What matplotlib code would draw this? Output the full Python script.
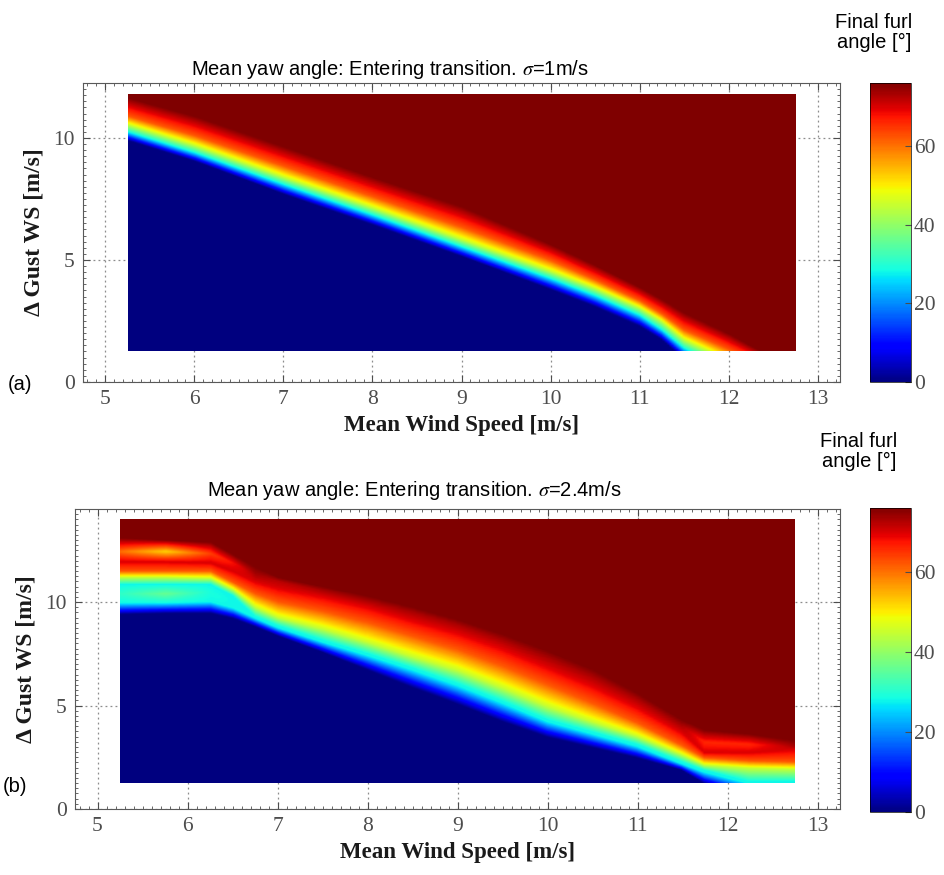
import matplotlib
matplotlib.use('Agg')
import matplotlib.pyplot as plt
import numpy as np
from matplotlib.ticker import MultipleLocator

plt.rcParams['mathtext.fontset'] = 'stix'

# colour scale shared by both maps
vmax = 76
cbar_ticks = [0, 20, 40, 60]
x_ticks = [5, 6, 7, 8, 9, 10, 11, 12, 13]
y_ticks = [0, 5, 10]

titles = ['Mean yaw angle: Entering transition. $\\sigma$=1m/s',
          'Mean yaw angle: Entering transition. $\\sigma$=2.4m/s']
panel_tags = ['(a)', '(b)']

# (a) sigma = 1 m/s
# gust [m/s] at which the map reaches each colour level, per mean wind speed
a_ws = [5.25, 6.0, 7.0, 8.0, 9.0, 10.0, 10.5, 11.0, 11.25, 11.5, 12.0, 12.25, 12.75]
a_lvl0 = [9.85, 9.0, 7.65, 6.4, 5.1, 3.75, 3.05, 2.25, 1.7, 0.9, -0.2, -0.5, -1.5]
a_lvl28 = [10.2, 9.35, 8.05, 6.8, 5.5, 4.2, 3.5, 2.7, 2.1, 1.35, 0.4, 0.0, -1.0]
a_lvl45 = [10.5, 9.65, 8.35, 7.1, 5.8, 4.5, 3.8, 3.0, 2.45, 1.7, 0.85, 0.5, -0.6]
a_lvl62 = [10.85, 10.05, 8.8, 7.55, 6.3, 4.95, 4.15, 3.3, 2.75, 2.1, 1.3, 0.9, -0.2]
a_lvl76 = [11.6, 10.85, 9.6, 8.35, 7.15, 5.6, 4.75, 3.85, 3.35, 2.8, 1.95, 1.45, 0.5]
a_gust_range = (1.25, 11.75)

# (b) sigma = 2.4 m/s
b_ws = [5.25, 5.75, 6.25, 6.5, 6.75, 7.0, 7.5, 8.0, 8.5, 9.0, 9.5, 10.0, 10.5,
        11.0, 11.5, 11.75, 12.25, 12.75]
b_lvl0 = [9.4, 9.45, 9.45, 9.2, 8.8, 8.35, 7.55, 6.7, 5.85, 5.05, 4.2, 3.45, 2.95,
          2.45, 1.85, 1.2, 0.5, 0.5]
b_lvl28 = [9.95, 9.95, 10.0, 9.7, 9.2, 8.75, 8.05, 7.4, 6.7, 5.95, 5.1, 4.2, 3.6,
           3.0, 2.15, 1.75, 1.2, 1.2]
b_bump_g = [10.4, 10.4, 10.45, 10.0, 9.25, 8.8, 8.1, 7.45, 6.75, 6.0, 5.15, 4.25,
            3.65, 3.05, 2.2, 1.8, 1.25, 1.25]
b_bump_val = [31, 36, 29, 28, 28, 28, 28, 28, 28, 28, 28, 28, 28, 28, 28, 28, 28, 28]
b_lvl28b = [10.85, 10.85, 10.85, 10.3, 9.3, 8.85, 8.15, 7.5, 6.8, 6.05, 5.2, 4.3,
            3.7, 3.1, 2.25, 1.85, 1.3, 1.3]
b_lvl45 = [11.2, 11.2, 11.15, 10.6, 9.75, 9.25, 8.7, 8.05, 7.35, 6.7, 5.85, 4.95,
           4.2, 3.5, 2.6, 2.1, 1.95, 1.9]
b_lvl62 = [11.5, 11.5, 11.5, 10.95, 10.4, 10.0, 9.55, 9.0, 8.35, 7.7, 6.9, 6.0,
           5.1, 4.15, 3.05, 2.45, 2.3, 2.25]
b_lvl70 = [11.95, 11.95, 11.9, 11.5, 11.0, 10.7, 10.3, 9.8, 9.15, 8.55, 7.8, 6.9,
           6.0, 4.95, 3.7, 2.7, 2.7, 2.85]
b_blob_g = [12.45, 12.45, 12.35, 11.9, 11.3, 11.0, 10.55, 10.05, 9.5, 8.9, 8.15,
            7.3, 6.4, 5.3, 4.0, 3.2, 3.1, 3.0]
b_blob_val = [60, 52, 64, 68, 73, 72, 73, 73, 73, 73, 73, 73, 73, 73, 73, 66, 66, 73]
b_lvl76 = [13.1, 13.0, 12.9, 12.3, 11.7, 11.2, 10.75, 10.3, 9.75, 9.15, 8.45, 7.65,
           6.75, 5.6, 4.3, 3.8, 3.6, 3.3]
b_gust_range = (1.25, 14.0)

ws_range = (5.25, 12.75)


def furl_map(ws_cols, anchors, levels, g_range):
    ws_grid = np.linspace(ws_range[0], ws_range[1], 301)
    g_grid = np.linspace(g_range[0], g_range[1], 260)
    pos = [np.interp(ws_grid, ws_cols, a) for a in anchors]
    val = [np.interp(ws_grid, ws_cols, np.broadcast_to(lv, (len(ws_cols),)))
           for lv in levels]
    img = np.zeros((len(g_grid), len(ws_grid)))
    for j in range(len(ws_grid)):
        img[:, j] = np.interp(g_grid, [p[j] for p in pos], [v[j] for v in val])
    return img


map_a = furl_map(a_ws, [a_lvl0, a_lvl28, a_lvl45, a_lvl62, a_lvl76],
                 [0, 28, 45, 62, 76], a_gust_range)
map_b = furl_map(b_ws, [b_lvl0, b_lvl28, b_bump_g, b_lvl28b, b_lvl45, b_lvl62,
                        b_lvl70, b_blob_g, b_lvl76],
                 [0, 28, b_bump_val, 28, 45, 62, 70, b_blob_val, 76],
                 b_gust_range)

W, H = 944, 875
fig = plt.figure(figsize=(W / 100, H / 100), dpi=100)

panels = [
    dict(img=map_a, g_range=a_gust_range, ylim=(0, 12.25),
         ax=(83, 83, 840, 382), cax=(870, 83, 911, 382),
         title_xy=(390, 75), cb_title_xy=(874, 13), tag_xy=(8, 385)),
    dict(img=map_b, g_range=b_gust_range, ylim=(0, 14.5),
         ax=(75, 509, 840, 809), cax=(870, 508, 911, 812),
         title_xy=(414, 496), cb_title_xy=(859, 432), tag_xy=(3, 786)),
]


def fbox(x0, y0, x1, y1):
    return [x0 / W, 1 - y1 / H, (x1 - x0) / W, (y1 - y0) / H]


serif = 'Liberation Serif'
sans = 'Liberation Sans'
tick_col = '0.3'

for i, p in enumerate(panels):
    ax = fig.add_axes(fbox(*p['ax']))
    im = ax.imshow(p['img'], origin='lower', aspect='auto', cmap='jet',
                   vmin=0, vmax=vmax, interpolation='bilinear', zorder=2,
                   extent=(ws_range[0], ws_range[1], p['g_range'][0], p['g_range'][1]))
    ax.set_xlim(4.75, 13.25)
    ax.set_ylim(*p['ylim'])
    ax.set_xticks(x_ticks)
    ax.set_yticks(y_ticks)
    ax.xaxis.set_minor_locator(MultipleLocator(0.1))
    ax.yaxis.set_minor_locator(MultipleLocator(0.25))
    ax.grid(True, which='major', linestyle=(0, (1.5, 2.5)), color='0.55',
            linewidth=0.9, zorder=1)
    ax.set_axisbelow(True)
    ax.tick_params(which='both', direction='in', top=True, right=True,
                   colors=tick_col, labelcolor=tick_col)
    ax.tick_params(which='major', length=5, labelsize=15.5, pad=6)
    ax.tick_params(which='minor', length=2)
    for lab in ax.get_xticklabels() + ax.get_yticklabels():
        lab.set_fontfamily(serif)
    for s in ax.spines.values():
        s.set_color('0.35')
        s.set_linewidth(0.8)
    ax.set_xlabel('Mean Wind Speed [m/s]', fontfamily=serif, fontweight='bold',
                  fontsize=16.5, color='0.1', labelpad=4)
    ax.set_ylabel('\u0394 Gust WS [m/s]', fontfamily=serif, fontweight='bold',
                  fontsize=17, color='0.1', labelpad=6)

    cax = fig.add_axes(fbox(*p['cax']))
    cb = fig.colorbar(im, cax=cax, ticks=cbar_ticks)
    cb.outline.set_linewidth(0.5)
    cax.tick_params(direction='in', length=4, labelsize=15.5, colors=tick_col,
                    labelcolor=tick_col, pad=2)
    for lab in cax.get_yticklabels():
        lab.set_fontfamily(serif)

    tx, ty = p['title_xy']
    fig.text(tx / W, 1 - ty / H, titles[i], ha='center', va='baseline',
             fontfamily=sans, fontsize=14.5)
    cx, cy = p['cb_title_xy']
    fig.text(cx / W, 1 - cy / H, 'Final furl\nangle [\u00b0]', ha='center',
             va='top', fontfamily=sans, fontsize=14.5, linespacing=1.05)
    gx, gy = p['tag_xy']
    fig.text(gx / W, 1 - gy / H, panel_tags[i], ha='left', va='center',
             fontfamily=sans, fontsize=14.5)

fig.savefig('out.png', dpi=100)
